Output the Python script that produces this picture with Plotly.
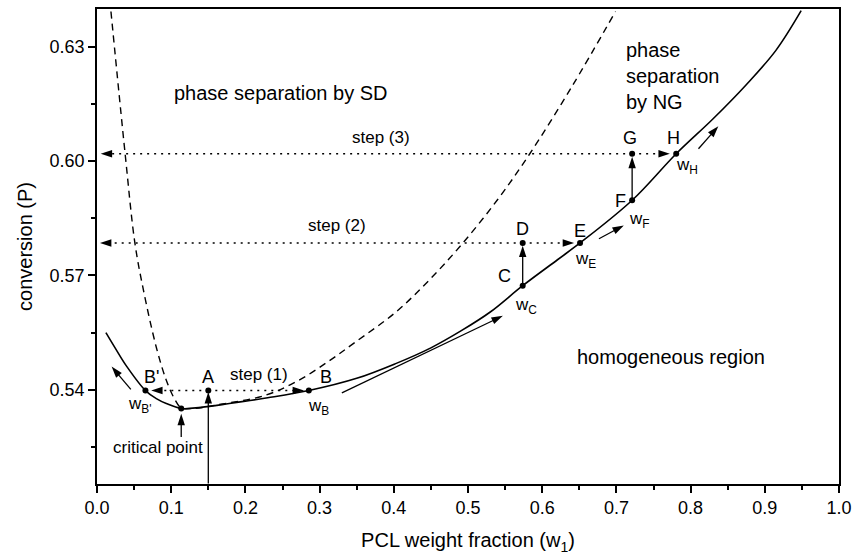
import plotly.graph_objects as go

# ---- data ----
# cloud-point (binodal) curve, solid
binodal_w = [0.012, 0.025, 0.0398, 0.0653, 0.080, 0.0934, 0.1135, 0.140, 0.1783, 0.230, 0.2855,
             0.350, 0.4017, 0.450, 0.491, 0.530, 0.5737, 0.6206, 0.651, 0.7212, 0.7806, 0.830,
             0.875, 0.915, 0.949]
binodal_P = [0.5550, 0.5508, 0.5462, 0.5398, 0.5377, 0.5364, 0.5351, 0.5354, 0.5364, 0.5379, 0.5398,
             0.5430, 0.5468, 0.5510, 0.5555, 0.5604, 0.5673, 0.5741, 0.5785, 0.5897, 0.6019, 0.6110,
             0.6200, 0.6290, 0.6394]

# spinodal curve, dashed
spinodal_w = [0.0188, 0.038, 0.0509, 0.062, 0.080, 0.0934, 0.1040, 0.1135, 0.130, 0.1604, 0.2275,
              0.272, 0.3123, 0.3481, 0.4017, 0.4464, 0.491, 0.540, 0.5826, 0.640, 0.6988]
spinodal_P = [0.6392, 0.6017, 0.5787, 0.5667, 0.5511, 0.5425, 0.5378, 0.5353, 0.5351, 0.5360, 0.5386,
              0.5425, 0.5475, 0.5525, 0.5602, 0.5685, 0.5780, 0.5899, 0.6017, 0.6195, 0.6392]

# marked points
pt_names = ["B'", "crit", "A", "B", "C", "D", "E", "F", "G", "H"]
pt_w = [0.0653, 0.1135, 0.150, 0.2855, 0.5737, 0.5737, 0.651, 0.7212, 0.7212, 0.7806]
pt_P = [0.5398, 0.5351, 0.5398, 0.5398, 0.5673, 0.5785, 0.5785, 0.5897, 0.6019, 0.6019]

# dotted step lines (start -> arrow tip)
step_x0 = [0.150, 0.150, 0.5737, 0.5737, 0.7212, 0.7212]
step_x1 = [0.073, 0.279, 0.004, 0.643, 0.005, 0.772]
step_P = [0.5398, 0.5398, 0.5785, 0.5785, 0.6019, 0.6019]

# solid arrows: tail (ax, ay) -> tip (x, y)
arr_ax = [0.150, 0.1135, 0.0456, 0.330, 0.6765, 0.8106, 0.5737, 0.7212]
arr_ay = [0.5154, 0.5276, 0.5401, 0.5392, 0.5796, 0.6032, 0.5673, 0.5897]
arr_x = [0.150, 0.1135, 0.0197, 0.547, 0.710, 0.8374, 0.5737, 0.7212]
arr_y = [0.5394, 0.5337, 0.5461, 0.5594, 0.5831, 0.6091, 0.5778, 0.6011]

# point letters
lab_text = ["B'", "A", "B", "C", "D", "E", "F", "G", "H"]
lab_x = [0.0733, 0.150, 0.308, 0.549, 0.5737, 0.651, 0.7055, 0.718, 0.777]
lab_y = [0.5433, 0.5433, 0.5433, 0.5698, 0.5821, 0.5817, 0.5895, 0.6060, 0.6060]

# composition labels and step labels
sub_text = ["w<sub>B'</sub>", "w<sub>B</sub>", "w<sub>C</sub>", "w<sub>E</sub>", "w<sub>F</sub>", "w<sub>H</sub>",
            "critical point", "step (1)", "step (2)", "step (3)"]
sub_x = [0.0576, 0.299, 0.578, 0.6586, 0.7315, 0.795, 0.0824, 0.2185, 0.323, 0.3827]
sub_y = [0.5360, 0.5355, 0.5620, 0.5741, 0.5845, 0.5986, 0.5248, 0.5440, 0.5831, 0.6062]

region_text = ["phase separation by SD", "phase<br>separation<br>by NG", "homogeneous region"]
region_x = [0.2476, 0.710, 0.7735]
region_y = [0.6177, 0.6222, 0.5485]
region_anchor = ["center", "left", "center"]

x_ticks = [0.0, 0.1, 0.2, 0.3, 0.4, 0.5, 0.6, 0.7, 0.8, 0.9, 1.0]
x_ticktext = ["0.0", "0.1", "0.2", "0.3", "0.4", "0.5", "0.6", "0.7", "0.8", "0.9", "1.0"]
y_ticks = [0.54, 0.57, 0.60, 0.63]
y_ticktext = ["0.54", "0.57", "0.60", "0.63"]

FONT = "Liberation Sans, Arial, sans-serif"

fig = go.Figure()

fig.add_trace(go.Scatter(x=binodal_w, y=binodal_P, mode="lines",
                         line=dict(color="black", width=1.6, shape="spline", smoothing=1.0),
                         showlegend=False, hoverinfo="skip"))
fig.add_trace(go.Scatter(x=spinodal_w, y=spinodal_P, mode="lines",
                         line=dict(color="black", width=1.4, dash="7px,5px", shape="spline", smoothing=1.0),
                         showlegend=False, hoverinfo="skip"))

# dotted step lines with arrowheads at their ends
for x0, x1, p in zip(step_x0, step_x1, step_P):
    fig.add_trace(go.Scatter(x=[x0, x1], y=[p, p], mode="lines+markers",
                             line=dict(color="black", width=1.6, dash="2px,5px"),
                             marker=dict(symbol="arrow", size=12, angleref="previous", color="black"),
                             showlegend=False, hoverinfo="skip"))

# solid arrows
for ax, ay, x, y in zip(arr_ax, arr_ay, arr_x, arr_y):
    fig.add_trace(go.Scatter(x=[ax, x], y=[ay, y], mode="lines+markers",
                             line=dict(color="black", width=1.3),
                             marker=dict(symbol="arrow", size=12, angleref="previous", color="black"),
                             showlegend=False, hoverinfo="skip"))

fig.add_trace(go.Scatter(x=pt_w, y=pt_P, mode="markers",
                         marker=dict(color="black", size=6),
                         showlegend=False, hoverinfo="skip"))

annotations = []
for t, x, y in zip(lab_text, lab_x, lab_y):
    annotations.append(dict(x=x, y=y, xref="x", yref="y", text=t, showarrow=False,
                            font=dict(family=FONT, size=18, color="black")))
for t, x, y in zip(sub_text, sub_x, sub_y):
    annotations.append(dict(x=x, y=y, xref="x", yref="y", text=t, showarrow=False,
                            font=dict(family=FONT, size=17, color="black")))
for t, x, y, a in zip(region_text, region_x, region_y, region_anchor):
    annotations.append(dict(x=x, y=y, xref="x", yref="y", text=t, showarrow=False,
                            xanchor=a, align="left",
                            font=dict(family=FONT, size=20, color="black")))

fig.update_layout(
    width=859, height=558,
    margin=dict(l=97, r=16, t=7, b=74),
    paper_bgcolor="white", plot_bgcolor="white",
    font=dict(family=FONT, size=18, color="black"),
    annotations=annotations,
    xaxis=dict(range=[0, 1], tickvals=x_ticks, ticktext=x_ticktext,
               ticks="outside", ticklen=7, tickwidth=1.5, tickcolor="black",
               minor=dict(dtick=0.05, ticks="outside", ticklen=4, tickwidth=1.5, tickcolor="black"),
               showline=True, linewidth=1.6, linecolor="black", mirror=True,
               showgrid=False, zeroline=False,
               tickfont=dict(family=FONT, size=18),
               title=dict(text="PCL weight fraction (w<sub>1</sub>)", font=dict(family=FONT, size=20), standoff=16)),
    yaxis=dict(range=[0.5153, 0.63985], tickvals=y_ticks, ticktext=y_ticktext,
               ticks="outside", ticklen=7, tickwidth=1.5, tickcolor="black",
               minor=dict(dtick=0.015, tick0=0.525, ticks="outside", ticklen=4, tickwidth=1.5, tickcolor="black"),
               showline=True, linewidth=1.6, linecolor="black", mirror=True,
               showgrid=False, zeroline=False,
               tickfont=dict(family=FONT, size=18),
               title=dict(text="conversion (P)", font=dict(family=FONT, size=20), standoff=12)),
)

fig.write_html("out.html")
